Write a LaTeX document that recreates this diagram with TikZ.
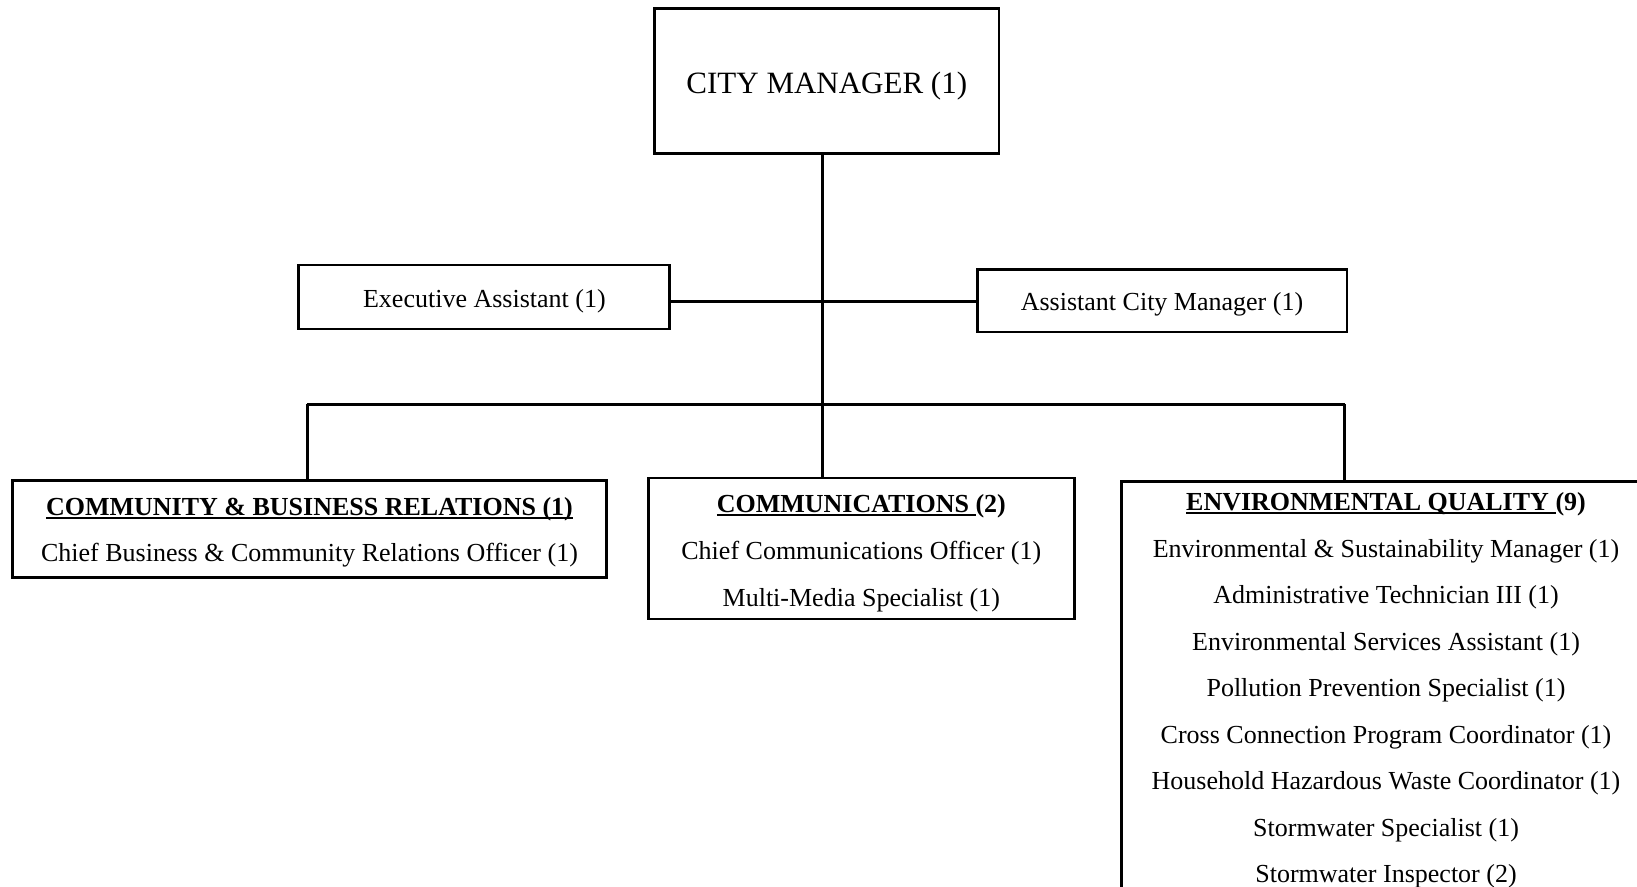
\documentclass[tikz,border=0pt]{standalone}
\usepackage{fontspec}
\setmainfont{Liberation Serif}
\newsavebox\ulbox
\newcommand\hdul[1]{\leavevmode\sbox\ulbox{#1}\rlap{\rule[-0.15em]{\wd\ulbox}{0.095em}}\usebox\ulbox}
\begin{document}
\begin{tikzpicture}[x=1pt,y=-1pt,
  box/.style={draw, line width=2.6pt, inner sep=0pt},
  conn/.style={line width=3pt},
  txt/.style={inner sep=0pt, font=\fontsize{26}{30}\selectfont},
  hd/.style={inner sep=0pt, font=\fontsize{26}{30}\selectfont\bfseries}]
\useasboundingbox (0,0) rectangle (1637,886);
\fill[white] (0,0) rectangle (1637,886);
\clip (0,0) rectangle (1637,886);

% boxes
\node[box, minimum width=344.5pt, minimum height=145pt] (cm) at (826.8,81) {};
\node[txt, font=\fontsize{31}{36}\selectfont] (cmt) at (826.8,86.5) {CITY MANAGER (1)};

\node[box, minimum width=370.6pt, minimum height=63.7pt] (ea) at (483.9,297) {};
\node[txt] (eat) at (484.4,301.6) {Executive Assistant (1)};

\node[box, minimum width=369.6pt, minimum height=62.6pt] (acm) at (1162,300.7) {};
\node[txt] (acmt) at (1162,304.7) {Assistant City Manager (1)};

\node[box, minimum width=594pt, minimum height=97pt] (cbr) at (309.5,528.8) {};
\node[hd] (cbr0) at (309.5,509) {\hdul{COMMUNITY \& BUSINESS RELATIONS (1)}};
\node[txt] (cbr1) at (309.5,555) {Chief Business \& Community Relations Officer (1)};

\node[box, minimum width=426pt, minimum height=141pt] (com) at (861.3,548.6) {};
\node[hd] (com0) at (861.3,506) {\hdul{COMMUNICATIONS\ }(2)};
\node[txt] (com1) at (861.3,553) {Chief Communications Officer (1)};
\node[txt] (com2) at (861.3,600) {Multi-Media Specialist (1)};

\node[box, anchor=north west, minimum width=535pt, minimum height=440pt] (env) at (1120.2,480.2) {};
\node[hd] (e0) at (1386,504) {\hdul{ENVIRONMENTAL QUALITY\ }(9)};
\node[txt] (e1) at (1386,551) {Environmental \& Sustainability Manager (1)};
\node[txt] (e2) at (1386,597) {Administrative Technician III (1)};
\node[txt] (e3) at (1386,644) {Environmental Services Assistant (1)};
\node[txt] (e4) at (1386,690) {Pollution Prevention Specialist (1)};
\node[txt] (e5) at (1386,737) {Cross Connection Program Coordinator (1)};
\node[txt] (e6) at (1386,783) {Household Hazardous Waste Coordinator (1)};
\node[txt] (e7) at (1386,830) {Stormwater Specialist (1)};
\node[txt] (e8) at (1386,876) {Stormwater Inspector (2)};

% junctions
\coordinate (j1) at (822.7,301.7);
\coordinate (bus) at (822.7,404);
\coordinate (busL) at (307,404);
\coordinate (busR) at (1344.7,404);

% connectors
\draw[conn] (cm.south -| bus) -- (bus);
\draw[conn] (ea.east |- j1) -- (acm.west |- j1);
\draw[conn] (busL) -- (busR);
\draw[conn] (busL) -- (busL |- cbr.north);
\draw[conn] (bus) -- (bus |- com.north);
\draw[conn] (busR) -- (busR |- env.north);
\end{tikzpicture}
\end{document}
